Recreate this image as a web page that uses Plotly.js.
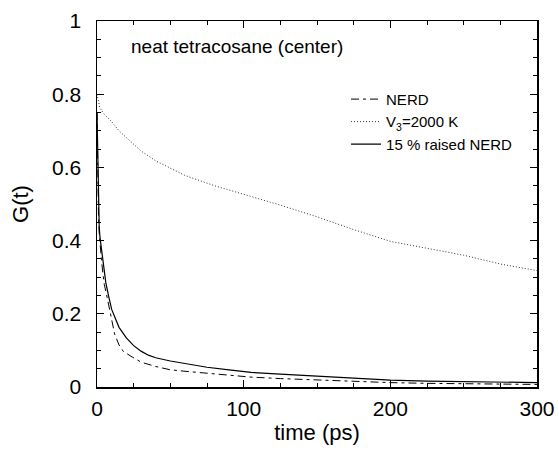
<!DOCTYPE html>
<html>
<head>
<meta charset="utf-8">
<script src="https://cdn.plot.ly/plotly-3.0.1.min.js"></script>
<style>html,body{margin:0;padding:0;background:#fff;}#chart{width:559px;height:451px;}</style>
</head>
<body>
<div id="chart"></div>
<script>
// Series: NERD (dash-dot)
var tNerd = [0, 0.5, 1, 1.5, 2, 3, 4, 5, 7, 9, 12, 15, 18, 24, 30, 40, 50, 60, 75, 90, 105, 125, 150, 175, 200, 225, 250, 275, 300];
var gNerd = [0.75, 0.58, 0.47, 0.42, 0.39, 0.35, 0.31, 0.28, 0.243, 0.202, 0.145, 0.115, 0.097, 0.082, 0.068, 0.056, 0.047, 0.043, 0.037, 0.032, 0.027, 0.023, 0.019, 0.015, 0.012, 0.010, 0.009, 0.008, 0.007];

// Series: V3 = 2000 K (dotted)
var tV3 = [0, 1, 2, 5, 10, 15, 20, 30, 40, 50, 60, 80, 100, 125, 150, 175, 200, 225, 250, 275, 300];
var gV3 = [0.80, 0.775, 0.762, 0.745, 0.725, 0.70, 0.682, 0.645, 0.618, 0.597, 0.578, 0.550, 0.527, 0.497, 0.465, 0.430, 0.398, 0.379, 0.360, 0.336, 0.318];

// Series: 15 % raised NERD (solid)
var tRaised = [0, 0.5, 1, 1.5, 2, 3, 4, 6, 8, 10, 15, 20, 25, 30, 35, 40, 50, 60, 75, 90, 105, 125, 150, 175, 200, 225, 250, 275, 300];
var gRaised = [0.75, 0.60, 0.50, 0.44, 0.41, 0.375, 0.34, 0.285, 0.247, 0.212, 0.163, 0.134, 0.113, 0.098, 0.087, 0.080, 0.071, 0.064, 0.054, 0.047, 0.040, 0.035, 0.029, 0.024, 0.019, 0.016, 0.014, 0.013, 0.012];

var seriesNames = ["NERD", "V<sub>3</sub>=2000 K", "15 % raised NERD"];
var xTickVals = [0, 100, 200, 300];
var yTickVals = [0, 0.2, 0.4, 0.6, 0.8, 1];
var yTickText = ["0", "0.2", "0.4", "0.6", "0.8", "1"];

var FONT = "Liberation Sans, Arial, Helvetica, sans-serif";

var traces = [
  {x: tNerd, y: gNerd, name: seriesNames[0], mode: "lines",
   line: {color: "#000", width: 1, dash: "8px,4px,3px,4px"}},
  {x: tV3, y: gV3, name: seriesNames[1], mode: "lines",
   line: {color: "#333", width: 1, dash: "1px,2px"}},
  {x: tRaised, y: gRaised, name: seriesNames[2], mode: "lines",
   line: {color: "#000", width: 1.2}}
];

var axisCommon = {
  showgrid: false, zeroline: false, showline: true, linecolor: "#000", linewidth: 1.5,
  mirror: "ticks", ticks: "inside", ticklen: 7, tickwidth: 1, tickcolor: "#000",
  tickfont: {family: FONT, size: 21, color: "#000"}
};

var layout = {
  width: 559, height: 451,
  margin: {l: 97, r: 22, t: 21, b: 64, pad: 0},
  paper_bgcolor: "#fff", plot_bgcolor: "#fff",
  font: {family: FONT, color: "#000"},
  showlegend: true,
  legend: {x: 0.566, y: 0.831, xanchor: "left", yanchor: "top",
           bgcolor: "rgba(0,0,0,0)", borderwidth: 0,
           font: {family: FONT, size: 15, color: "#000"},
           tracegroupgap: 0, itemwidth: 30},
  xaxis: Object.assign({}, axisCommon, {
    range: [0, 300], tickvals: xTickVals,
    minor: {dtick: 25, ticks: "inside", ticklen: 4, tickcolor: "#000", tickwidth: 1},
    ticklabelstandoff: 2,
    title: {text: "time (ps)", font: {family: FONT, size: 22, color: "#000"}, standoff: 6}
  }),
  yaxis: Object.assign({}, axisCommon, {
    range: [0, 1], tickvals: yTickVals, ticktext: yTickText,
    minor: {dtick: 0.05, ticks: "inside", ticklen: 4, tickcolor: "#000", tickwidth: 1},
    ticklabelstandoff: 10,
    title: {text: "G(t)", font: {family: FONT, size: 22, color: "#000"}, standoff: 17}
  }),
  annotations: [{
    text: "neat tetracosane (center)", xref: "paper", yref: "paper",
    x: 0.073, y: 0.93, xanchor: "left", yanchor: "middle", showarrow: false,
    font: {family: FONT, size: 19, color: "#000"}
  }]
};

Plotly.newPlot("chart", traces, layout, {displayModeBar: false, staticPlot: true});
</script>
</body>
</html>
